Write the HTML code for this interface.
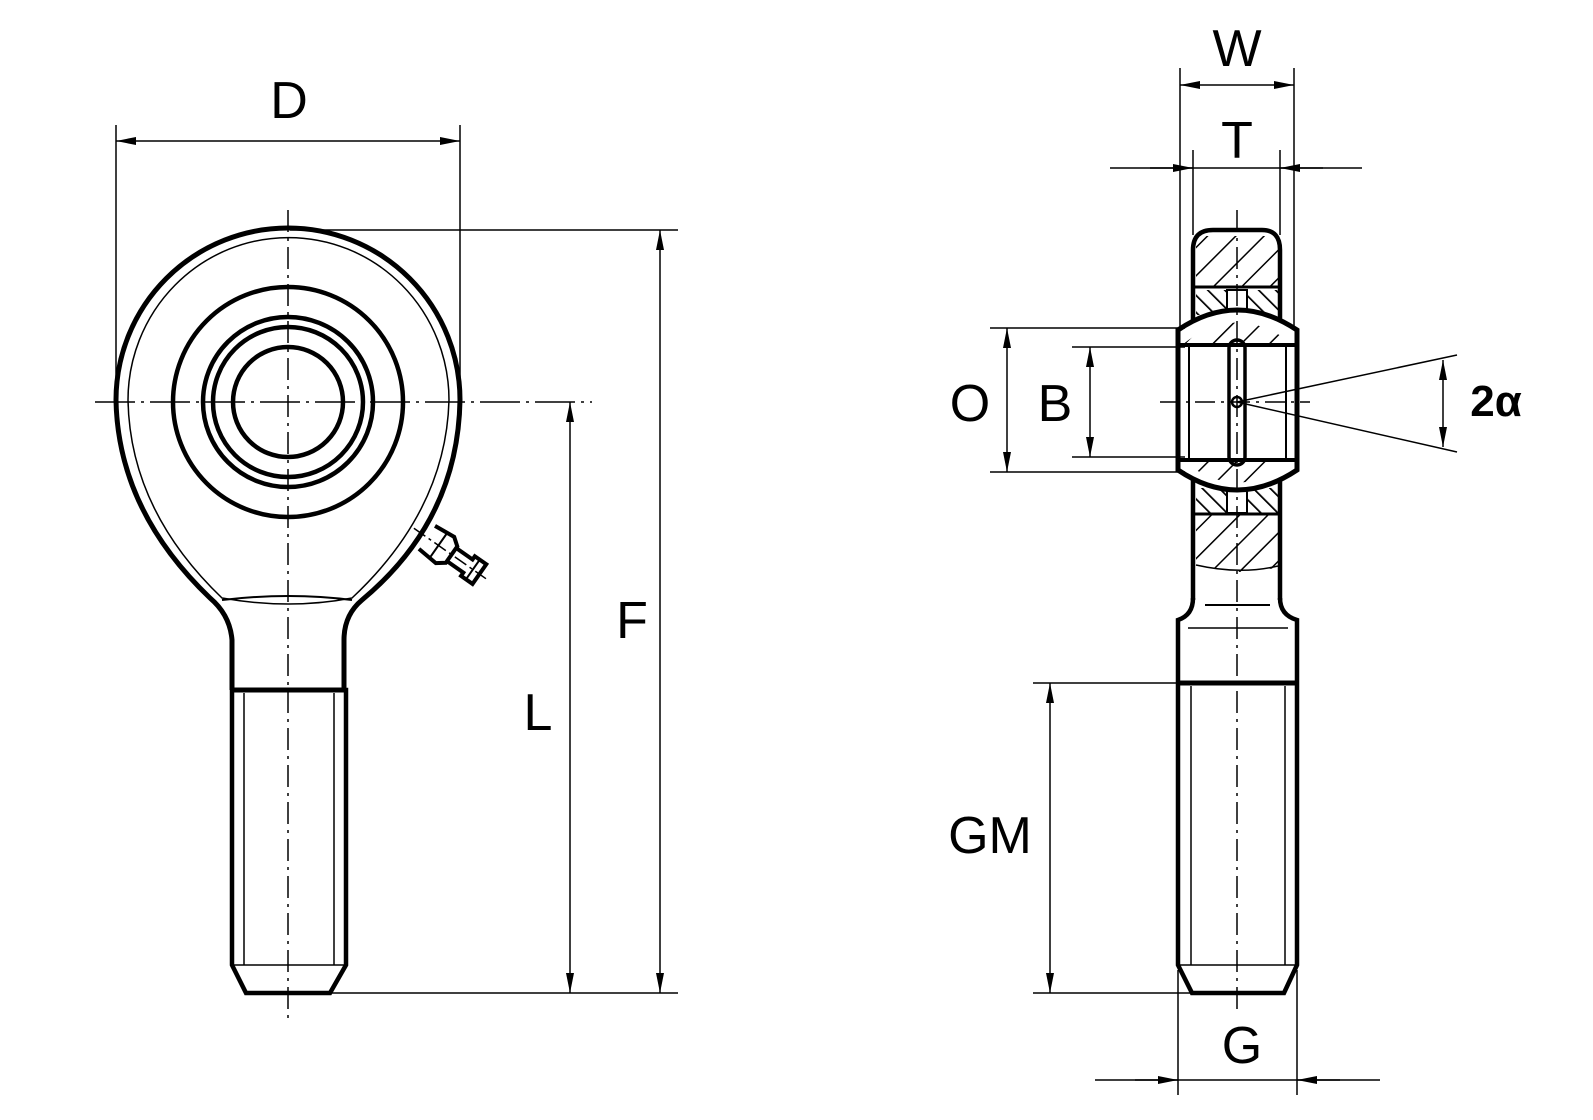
<!DOCTYPE html>
<html><head><meta charset="utf-8"><style>
html,body{margin:0;padding:0;background:#fff;}
svg{display:block;}
text{font-family:"Liberation Sans",sans-serif;fill:#000;}
</style></head><body>
<svg width="1593" height="1120" viewBox="0 0 1593 1120" xmlns="http://www.w3.org/2000/svg">
<defs>
<marker id="a" viewBox="0 0 20 8" refX="20" refY="4" markerWidth="40" markerHeight="8" markerUnits="userSpaceOnUse" orient="auto-start-reverse"><path d="M0,0 L20,4 L0,8 Z" fill="#000"/></marker>
<pattern id="h1" width="20" height="20" patternUnits="userSpaceOnUse" patternTransform="rotate(45)"><line x1="0" y1="0" x2="0" y2="20" stroke="#000" stroke-width="3"/></pattern>
<pattern id="h2" width="12" height="12" patternUnits="userSpaceOnUse" patternTransform="rotate(-45)"><line x1="0" y1="0" x2="0" y2="12" stroke="#000" stroke-width="3.5"/></pattern>
</defs>
<g fill="none" stroke="#000">
<!-- LEFT VIEW -->
<path d="M232,690 L232,640 Q230,615 210,598 Q118,510 116,400 A172,172 0 0 1 460,400 Q458,520 362,600 Q344,615 344,640 L344,690" stroke-width="5"/>
<path d="M128,400 A160,162 0 0 1 449,400 Q446,510 352,598 Q290,610 222,598 Q130,510 128,400 Z" stroke-width="1.5"/>
<path d="M222,600 Q290,592 352,600" stroke-width="2"/>
<circle cx="288" cy="402" r="115" stroke-width="4.5"/>
<circle cx="288" cy="402" r="85" stroke-width="4.5"/>
<circle cx="288" cy="402" r="75" stroke-width="4.5"/>
<circle cx="288" cy="402" r="55" stroke-width="4.5"/>
<path d="M232,690 L232,965 L246,993 L330,993 L346,965 L346,690 Z" stroke-width="4.5"/>
<line x1="232" y1="690" x2="346" y2="690" stroke-width="5"/>
<line x1="244" y1="693" x2="244" y2="965" stroke-width="1.5"/>
<line x1="334" y1="693" x2="334" y2="965" stroke-width="1.5"/>
<line x1="232" y1="965" x2="346" y2="965" stroke-width="1.5"/>
<g transform="translate(445,550) rotate(35)" stroke-width="4">
<path d="M-22,-14 L0,-16 L8,-10 L8,10 L0,16 L-22,14"/>
<path d="M8,-8 L28,-8 L28,-12 L42,-12 L42,12 L28,12 L28,8 L8,8"/>
<line x1="-8" y1="-15" x2="-8" y2="15" stroke-width="2"/>
<line x1="34" y1="-12" x2="34" y2="12" stroke-width="2"/>
<line x1="-38" y1="0" x2="50" y2="0" stroke-width="1.5" stroke-dasharray="14,4,3,4"/>
</g>
<line x1="288" y1="210" x2="288" y2="1018" stroke-width="1.5" stroke-dasharray="22,6,3,6"/>
<line x1="95" y1="402" x2="592" y2="402" stroke-width="1.5" stroke-dasharray="40,6,3,6"/>
<line x1="116" y1="125" x2="116" y2="395" stroke-width="1.5"/>
<line x1="460" y1="125" x2="460" y2="395" stroke-width="1.5"/>
<line x1="116" y1="141" x2="460" y2="141" stroke-width="1.5" marker-start="url(#a)" marker-end="url(#a)"/>
<line x1="290" y1="230" x2="678" y2="230" stroke-width="1.5"/>
<line x1="330" y1="993" x2="678" y2="993" stroke-width="1.5"/>
<line x1="660" y1="230" x2="660" y2="993" stroke-width="1.5" marker-start="url(#a)" marker-end="url(#a)"/>
<line x1="570" y1="402" x2="570" y2="993" stroke-width="1.5" marker-start="url(#a)" marker-end="url(#a)"/>

<!-- RIGHT VIEW -->
<line x1="1180" y1="68" x2="1180" y2="330" stroke-width="1.5"/>
<line x1="1294" y1="68" x2="1294" y2="330" stroke-width="1.5"/>
<line x1="1193" y1="150" x2="1193" y2="235" stroke-width="1.5"/>
<line x1="1280" y1="150" x2="1280" y2="235" stroke-width="1.5"/>
<line x1="1180" y1="85" x2="1294" y2="85" stroke-width="1.5" marker-start="url(#a)" marker-end="url(#a)"/>
<line x1="1110" y1="168" x2="1362" y2="168" stroke-width="1.5"/>
<line x1="1150" y1="168" x2="1193" y2="168" stroke-width="1.5" marker-end="url(#a)"/>
<line x1="1323" y1="168" x2="1280" y2="168" stroke-width="1.5" marker-end="url(#a)"/>
<rect x="1196" y="236" width="82" height="50" fill="url(#h1)" stroke="none"/>
<rect x="1196" y="290" width="82" height="25" fill="url(#h2)" stroke="none"/>
<rect x="1196" y="488" width="82" height="25" fill="url(#h2)" stroke="none"/>
<path d="M1196,515 L1278,515 L1278,568 L1240,572 L1196,565 Z" fill="url(#h1)" stroke="none"/>
<rect x="1227" y="290" width="20" height="25" fill="#fff" stroke="#000" stroke-width="2"/>
<rect x="1227" y="488" width="20" height="25" fill="#fff" stroke="#000" stroke-width="2"/>
<path d="M1193,600 L1193,250 Q1193,230 1213,230 L1262,230 Q1280,230 1280,250 L1280,600" stroke-width="4.5"/>
<line x1="1193" y1="287" x2="1280" y2="287" stroke-width="3"/>
<line x1="1193" y1="514" x2="1280" y2="514" stroke-width="3"/>
<path d="M1196,565 Q1240,575 1278,566" stroke-width="1.5"/>
<path d="M1178,330 Q1237,290 1297,330 L1297,470 Q1237,510 1178,470 Z" fill="#fff" stroke-width="5"/>
<path d="M1182,345 Q1237,300 1294,345 Z" fill="url(#h1)" stroke="none"/>
<path d="M1182,460 Q1237,505 1294,460 Z" fill="url(#h1)" stroke="none"/>
<line x1="1180" y1="345" x2="1295" y2="345" stroke-width="4"/>
<line x1="1180" y1="460" x2="1295" y2="460" stroke-width="4"/>
<line x1="1189" y1="345" x2="1189" y2="460" stroke-width="2"/>
<line x1="1286" y1="345" x2="1286" y2="460" stroke-width="2"/>
<rect x="1229" y="340" width="16" height="125" rx="8" stroke-width="3.5"/>
<circle cx="1237" cy="402" r="5" stroke-width="2.5"/>
<path d="M1193,598 Q1193,615 1178,620 L1178,965 L1192,993 L1284,993 L1297,965 L1297,620 Q1280,615 1280,598" stroke-width="4.5"/>
<line x1="1178" y1="683" x2="1297" y2="683" stroke-width="5"/>
<line x1="1191" y1="686" x2="1191" y2="965" stroke-width="1.5"/>
<line x1="1285" y1="686" x2="1285" y2="965" stroke-width="1.5"/>
<line x1="1178" y1="965" x2="1297" y2="965" stroke-width="1.5"/>
<line x1="1205" y1="605" x2="1270" y2="605" stroke-width="2"/>
<line x1="1188" y1="628" x2="1288" y2="628" stroke-width="1.5"/>
<line x1="1237" y1="210" x2="1237" y2="1010" stroke-width="1.5" stroke-dasharray="22,6,3,6"/>
<line x1="1160" y1="402" x2="1310" y2="402" stroke-width="1.5" stroke-dasharray="20,6,3,6"/>
<line x1="990" y1="328" x2="1185" y2="328" stroke-width="1.5"/>
<line x1="990" y1="472" x2="1185" y2="472" stroke-width="1.5"/>
<line x1="1072" y1="347" x2="1185" y2="347" stroke-width="1.5"/>
<line x1="1072" y1="457" x2="1185" y2="457" stroke-width="1.5"/>
<line x1="1007" y1="328" x2="1007" y2="472" stroke-width="1.5" marker-start="url(#a)" marker-end="url(#a)"/>
<line x1="1090" y1="347" x2="1090" y2="457" stroke-width="1.5" marker-start="url(#a)" marker-end="url(#a)"/>
<line x1="1237" y1="402" x2="1457" y2="355" stroke-width="1.5"/>
<line x1="1237" y1="402" x2="1457" y2="452" stroke-width="1.5"/>
<line x1="1443" y1="360" x2="1443" y2="447" stroke-width="1.5" marker-start="url(#a)" marker-end="url(#a)"/>
<line x1="1033" y1="683" x2="1180" y2="683" stroke-width="1.5"/>
<line x1="1033" y1="993" x2="1190" y2="993" stroke-width="1.5"/>
<line x1="1050" y1="683" x2="1050" y2="993" stroke-width="1.5" marker-start="url(#a)" marker-end="url(#a)"/>
<line x1="1178" y1="970" x2="1178" y2="1095" stroke-width="1.5"/>
<line x1="1297" y1="970" x2="1297" y2="1095" stroke-width="1.5"/>
<line x1="1095" y1="1080" x2="1380" y2="1080" stroke-width="1.5"/>
<line x1="1135" y1="1080" x2="1178" y2="1080" stroke-width="1.5" marker-end="url(#a)"/>
<line x1="1340" y1="1080" x2="1297" y2="1080" stroke-width="1.5" marker-end="url(#a)"/>
</g>
<g font-size="52" text-anchor="middle">
<text x="289" y="118">D</text>
<text x="632" y="638">F</text>
<text x="538" y="730">L</text>
<text x="1237" y="66">W</text>
<text x="1237" y="158">T</text>
<text x="970" y="421">O</text>
<text x="1055" y="421">B</text>
<text x="990" y="853">GM</text>
<text x="1242" y="1063">G</text>
<text x="1496" y="416" font-weight="bold" font-size="44">2α</text>
</g>
</svg>
</body></html>
